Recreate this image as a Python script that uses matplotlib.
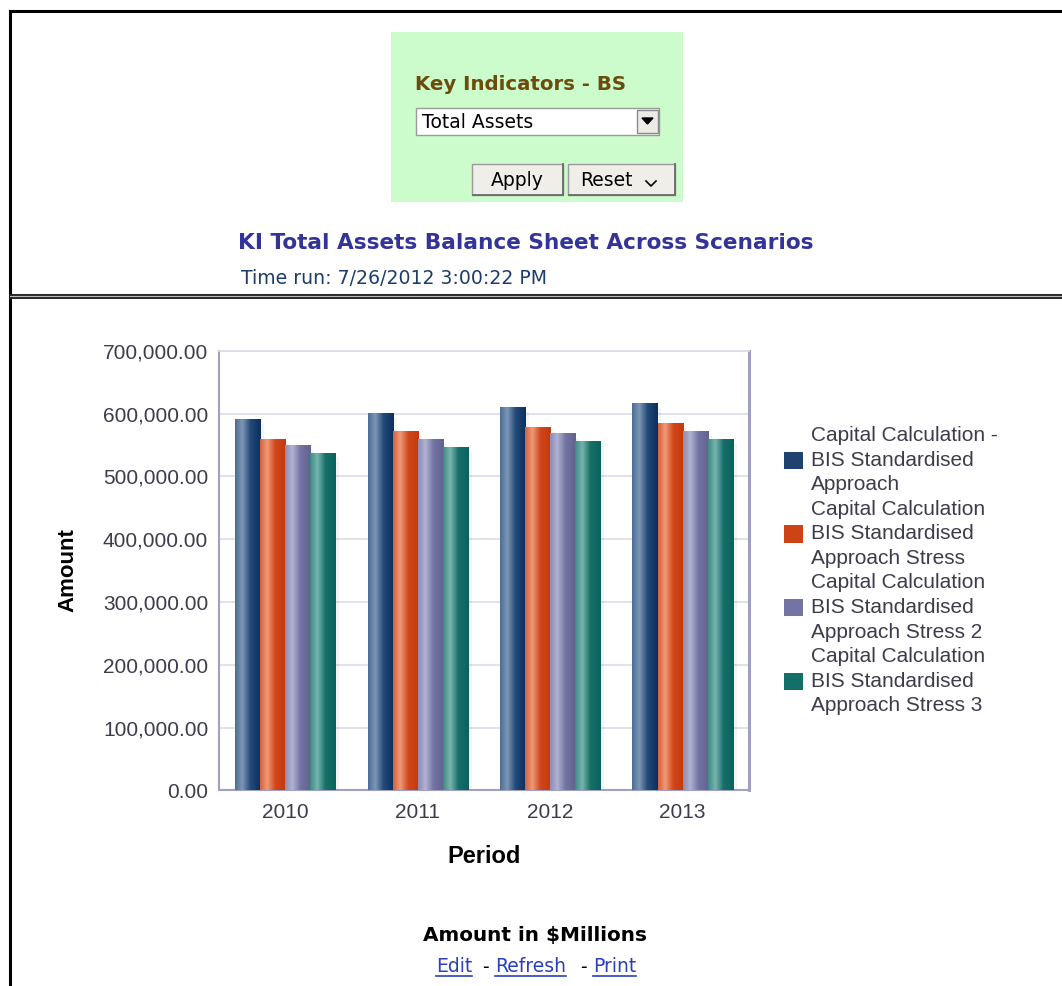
import matplotlib
matplotlib.use("Agg")
import matplotlib.pyplot as plt
import numpy as np
from matplotlib.colors import LinearSegmentedColormap
from matplotlib.patches import Rectangle, Polygon
from matplotlib.lines import Line2D

# data
periods = ["2010", "2011", "2012", "2013"]
series_names = [
    "Capital Calculation -\nBIS Standardised\nApproach",
    "Capital Calculation\nBIS Standardised\nApproach Stress",
    "Capital Calculation\nBIS Standardised\nApproach Stress 2",
    "Capital Calculation\nBIS Standardised\nApproach Stress 3",
]
base = [591500, 601000, 610500, 617000]
stress1 = [560000, 572500, 579000, 585000]
stress2 = [550500, 560000, 569500, 572500]
stress3 = [537500, 547000, 556500, 560000]
series_values = [base, stress1, stress2, stress3]
y_ticks = [0, 100000, 200000, 300000, 400000, 500000, 600000, 700000]

# light, highlight, mid, dark per series
bar_shades = [
    ["#4d6d95", "#7d97b6", "#234a78", "#0b2f5f"],
    ["#d8603a", "#ee9a78", "#d2461a", "#c23a0c"],
    ["#8d8db5", "#b2b2d2", "#7474a4", "#62628f"],
    ["#3f8a85", "#78b4ae", "#167068", "#0a625c"],
]
legend_colors = ["#1f4270", "#cc4416", "#7474a4", "#137068"]

W, H = 1062, 986
fig = plt.figure(figsize=(W / 100, H / 100), dpi=100)
fig.patch.set_facecolor("white")

# page decorations in pixel coordinates
bg = fig.add_axes([0, 0, 1, 1])
bg.set_xlim(0, W)
bg.set_ylim(H, 0)
bg.axis("off")

bg.plot([10, 10], [11, H], color="black", lw=2.2)
bg.plot([10, W], [11, 11], color="black", lw=2.2)
bg.plot([10, W], [294.5, 294.5], color="#222222", lw=1.4)
bg.plot([10, W], [297.5, 297.5], color="#222222", lw=1.4)
bg.plot([10, W], [296, 296], color="#bbbbbb", lw=0.8)

ui = "DejaVu Sans"
# prompt panel
bg.add_patch(Rectangle((391, 32), 292, 170, facecolor="#ccfccc", edgecolor="none"))
bg.text(415, 85, "Key Indicators - BS", fontsize=14.2, fontweight="bold",
        color="#6b4c0c", va="center", ha="left", family=ui)
bg.add_patch(Rectangle((416, 108), 243, 27, facecolor="white", edgecolor="#9a9a9a", lw=1))
bg.text(422, 122, "Total Assets", fontsize=13.5, color="black", va="center",
        ha="left", family=ui)
bg.add_patch(Rectangle((637, 110), 21, 23, facecolor="#ecebe6", edgecolor="#8a8a8a", lw=1))
bg.add_patch(Polygon([[642, 118], [653, 118], [647.5, 124]], closed=True,
                     facecolor="black", edgecolor="black"))
for x0, w0 in [(472, 91), (568, 107)]:
    bg.add_patch(Rectangle((x0, 164), w0, 31, facecolor="#efeee9", edgecolor="#9a9a9a", lw=1))
    bg.plot([x0 + 1, x0 + w0], [195, 195], color="#6a6a6a", lw=1.3)
    bg.plot([x0 + w0, x0 + w0], [164, 195], color="#6a6a6a", lw=1.3)
bg.text(517.5, 181, "Apply", fontsize=13.5, color="black", va="center", ha="center",
        family=ui)
bg.text(580, 181, "Reset", fontsize=13.5, color="black", va="center", ha="left",
        family=ui)
bg.plot([646, 651, 656], [181, 186, 181], color="black", lw=1.2)

bg.text(238, 243, "KI Total Assets Balance Sheet Across Scenarios", fontsize=15.6,
        fontweight="bold", color="#33339a", va="center", ha="left", family=ui)
bg.text(241, 278, "Time run: 7/26/2012 3:00:22 PM", fontsize=13.6, color="#1c3d6a",
        va="center", ha="left", family=ui)

bg.text(535, 935, r"Amount in \$Millions", fontsize=14.4, fontweight="bold",
        color="black", va="center", ha="center", family=ui)
link_color = "#2a3fbf"
links = []
links.append(bg.text(436, 967, "Edit", fontsize=13.5, color=link_color, va="center",
                     ha="left", family=ui))
bg.text(482, 967, "-", fontsize=13.5, color="black", va="center", ha="left", family=ui)
links.append(bg.text(495, 967, "Refresh", fontsize=13.5, color=link_color, va="center",
                     ha="left", family=ui))
bg.text(580, 967, "-", fontsize=13.5, color="black", va="center", ha="left", family=ui)
links.append(bg.text(593, 967, "Print", fontsize=13.5, color=link_color, va="center",
                     ha="left", family=ui))

# chart
ax = fig.add_axes([219.3 / W, 1 - 790.3 / H, (748.7 - 219.3) / W, (790.3 - 350.7) / H])
tick_color = "#3c3c4c"
bar_w = 0.189
x = np.arange(len(periods))
offsets = (np.arange(len(series_values)) - 1.5) * bar_w

containers = []
for i, vals in enumerate(series_values):
    bc = ax.bar(x + offsets[i], vals, bar_w, color=legend_colors[i],
                edgecolor="none", zorder=3, label=series_names[i])
    containers.append(bc)
    cmap = LinearSegmentedColormap.from_list(
        "g%d" % i, [(0, bar_shades[i][0]), (0.28, bar_shades[i][1]),
                    (0.6, bar_shades[i][2]), (1, bar_shades[i][3])])
    grad = np.linspace(0, 1, 64).reshape(1, -1)
    for p in bc.patches:
        # faint shadow to the right
        ax.add_patch(Rectangle((p.get_x() + 0.03, 0), p.get_width(), p.get_height() - 8000,
                               facecolor="#000000", alpha=0.045, edgecolor="none", zorder=2))
        im = ax.imshow(grad, cmap=cmap, aspect="auto", zorder=4,
                       extent=[p.get_x(), p.get_x() + p.get_width(), 0, p.get_height()])
        im.set_clip_path(p)

ax.set_xlim(-0.5, len(periods) - 0.5)
ax.set_ylim(0, 700000)
ax.set_xticks(x)
ax.set_xticklabels(periods)
ax.set_yticks(y_ticks)
ax.set_yticklabels(["{:,.2f}".format(v) for v in y_ticks])
ax.tick_params(axis="both", length=0, labelsize=15, labelcolor=tick_color)
ax.tick_params(axis="y", pad=8)
ax.tick_params(axis="x", pad=9)
for lbl in ax.get_xticklabels() + ax.get_yticklabels():
    lbl.set_family("Liberation Sans")
ax.grid(axis="y", color="#dcdce8", lw=1.2, zorder=0)
ax.set_axisbelow(True)
ax.spines["left"].set_color("#a0a0c0")
ax.spines["bottom"].set_color("#a0a0c0")
ax.spines["right"].set_color("#a0a0c4")
ax.spines["top"].set_color("#dcdce8")
ax.spines["left"].set_linewidth(1.5)
ax.spines["bottom"].set_linewidth(1.5)
ax.spines["right"].set_linewidth(2.2)
ax.spines["top"].set_linewidth(1.2)

ax.set_ylabel("Amount", fontsize=16, fontweight="bold", family="Liberation Sans",
              color="black", labelpad=18)
ax.set_xlabel("Period", fontsize=17, fontweight="bold", family="Liberation Sans",
              color="black", labelpad=17)

leg = ax.legend(handles=containers, labels=series_names, loc="upper left",
                bbox_to_anchor=(784 / W, 1 - 426 / H), bbox_transform=fig.transFigure,
                frameon=False, prop={"family": "Liberation Sans", "size": 15},
                labelcolor=tick_color, handlelength=0.9, handleheight=0.9,
                handletextpad=0.4, labelspacing=0.26, borderpad=0, borderaxespad=0)
for t in leg.get_texts():
    t.set_linespacing(1.375)

# underline the links
fig.canvas.draw()
r = fig.canvas.get_renderer()
for t in links:
    bb = t.get_window_extent(r)
    yb = bb.y0 + 1
    fig.add_artist(Line2D([bb.x0 / W, bb.x1 / W], [yb / H, yb / H],
                          transform=fig.transFigure, color=link_color, lw=1.2))

fig.savefig("out.png", dpi=100, facecolor="white")
